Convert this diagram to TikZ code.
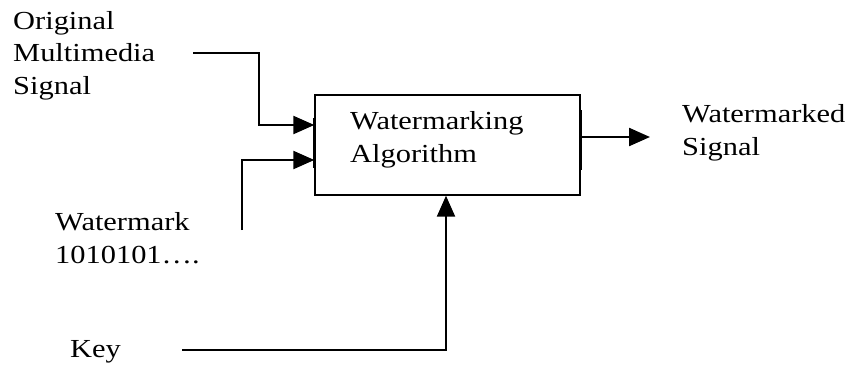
\documentclass[tikz,border=0pt]{standalone}
\usepackage{fontspec}
\setmainfont{Liberation Serif}
\usetikzlibrary{arrows.meta}
\tikzset{
  lbl/.style={inner sep=0pt, anchor=base west, align=left, xscale=1.17,
    font=\fontsize{26}{32.5}\selectfont},
  conn/.style={line width=2.3pt, -{Triangle[length=21pt,width=18pt]}},
  algbox/.style={draw, line width=1.4pt, minimum width=265pt, minimum height=100pt, inner sep=0pt},
}
\begin{document}
\begin{tikzpicture}[x=1pt,y=-1pt]
\useasboundingbox (0,0) rectangle (852,365);
% block
\node[algbox] (alg) at (447.5,145) {};
\draw[line width=2.8pt] (alg.west |- 0,118) -- (alg.west |- 0,168);
\draw[line width=2.8pt] (alg.east |- 0,110) -- (alg.east |- 0,170);
% labels (anchor = baseline of the last line)
\node[lbl] (orig) at (13,94) {Original\\Multimedia\\Signal};
\node[lbl] (algtxt) at (350,162) {Watermarking\\Algorithm};
\node[lbl] (out) at (682,155) {Watermarked\\Signal};
\node[lbl] (wm) at (55,263) {Watermark\\1010101….};
\node[lbl] (key) at (70,357) {Key};
% connectors
\coordinate (s1) at (193,53);
\coordinate (s2) at (242,230);
\coordinate (s4) at (182,350);
\coordinate (e3) at (650,137);
\draw[conn] (s1) -| (259,125) -- (alg.west |- 0,125);
\draw[conn] (s2) |- (alg.west |- 0,160);
\draw[conn] (alg.east |- 0,137) -- (e3);
\draw[conn] (s4) -| (alg.south -| 446,0);
\end{tikzpicture}
\end{document}
